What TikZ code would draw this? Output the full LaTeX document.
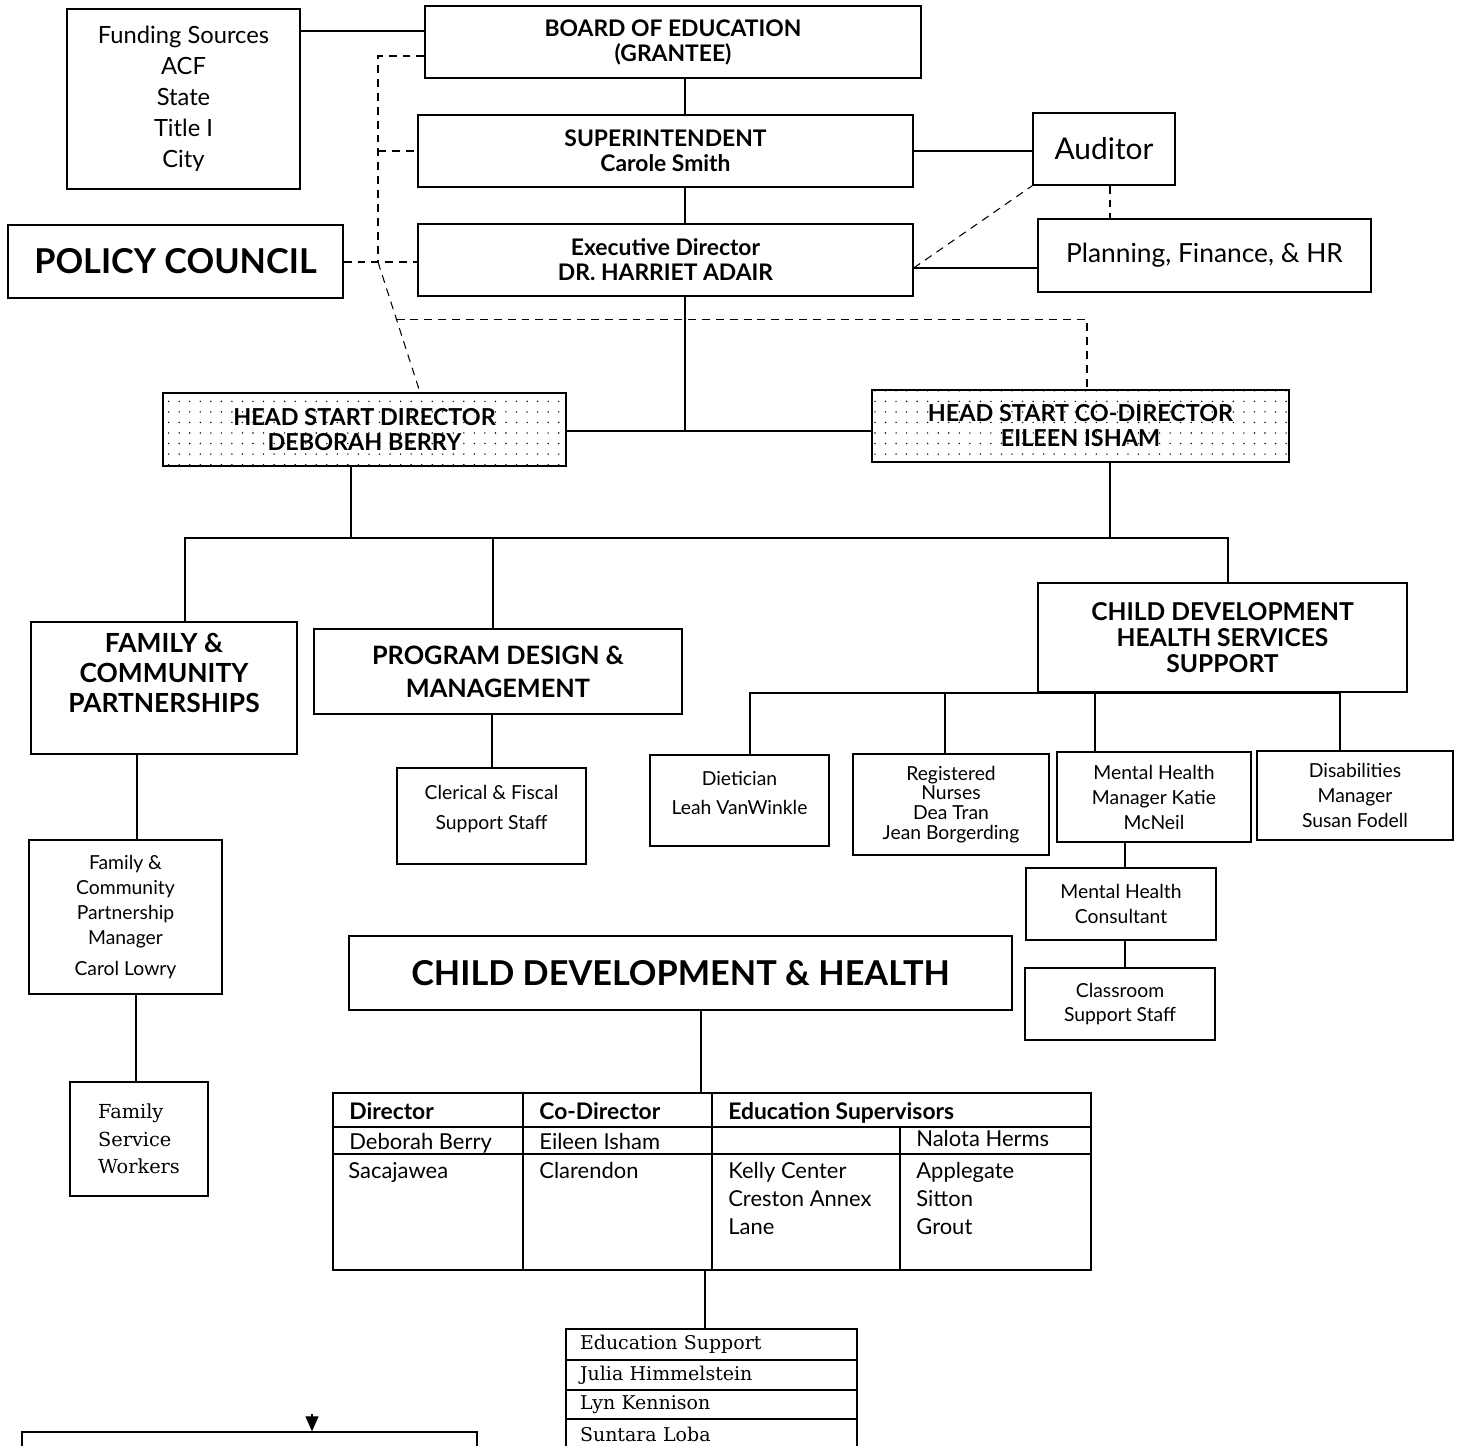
\documentclass[tikz,border=0pt]{standalone}
\usepackage{fontspec}
\setmainfont{Lato}
\newfontfamily\bookface{DejaVu Serif}
\usetikzlibrary{positioning, arrows.meta, calc, patterns.meta}

\begin{document}
\begin{tikzpicture}[x=0.02cm, y=-0.02cm,
      unit/.style={draw, line width=0.8pt, align=center, inner sep=0pt},
      hsbox/.style={unit, pattern={Dots[distance=6pt, radius=0.45pt]}},
      topfont/.style={font=\bfseries\fontsize{13}{14.2}\selectfont},
      small/.style={font=\fontsize{11}{14.2}\selectfont},
      link/.style={line width=0.6pt},
      adv/.style={line width=0.6pt, dash pattern=on 4.5pt off 3.4pt},
      cell/.style={anchor=base west, inner sep=0pt, font=\fontsize{12.5}{15}\selectfont},
      head/.style={cell, font=\bfseries\fontsize{13}{15}\selectfont},
      esrow/.style={draw, line width=0.8pt, align=left, text width=5.26cm, inner xsep=0.28cm, inner ysep=0pt, minimum height=0.6cm, font=\bookface\fontsize{10.8}{14}\selectfont}]
    \useasboundingbox (0,0) rectangle (1460,1445);
    \clip (0,0) rectangle (1460,1445);

    % top of the chart
    \node[unit, minimum width=4.66cm, minimum height=3.6cm, font=\fontsize{13.5}{17.6}\selectfont] (fund) at (183.5,99) {Funding Sources\\ACF\\State\\Title I\\City};
    \node[unit, topfont, minimum width=9.92cm, minimum height=1.44cm] (board) at (673,42) {BOARD OF EDUCATION\\(GRANTEE)};
    \node[unit, topfont, minimum width=9.9cm, minimum height=1.44cm] (supt) at (665.5,151) {SUPERINTENDENT\\Carole Smith};
    \node[unit, topfont, minimum width=9.9cm, minimum height=1.44cm] (exec) at (665.5,260) {Executive Director\\DR. HARRIET ADAIR};
    \node[unit, minimum width=6.7cm, minimum height=1.46cm, font=\bfseries\fontsize{19.5}{22}\selectfont] (policy) at (175.5,261.5) {POLICY COUNCIL};
    \node[unit, minimum width=2.84cm, minimum height=1.44cm, font=\fontsize{17}{20}\selectfont] (auditor) at (1104,149) {Auditor};
    \node[unit, minimum width=6.66cm, minimum height=1.46cm, font=\fontsize{15}{18}\selectfont] (plan) at (1204.5,255.5) {Planning, Finance, \& HR};

    % head start directors
    \node[hsbox, font=\bfseries\fontsize{13.3}{14.2}\selectfont, minimum width=8.06cm, minimum height=1.46cm] (hsdir) at (364.5,429.5) {HEAD START DIRECTOR\\DEBORAH BERRY};
    \node[hsbox, font=\bfseries\fontsize{13.3}{14.2}\selectfont, minimum width=8.34cm, minimum height=1.44cm] (hscodir) at (1080.5,426) {HEAD START CO-DIRECTOR\\EILEEN ISHAM};

    % service areas
    \node[unit, minimum width=5.32cm, minimum height=2.64cm, font=\bfseries\fontsize{15}{17.3}\selectfont] (fcp) at (164,688) {FAMILY \&\\COMMUNITY\\PARTNERSHIPS\\\mbox{}};
    \node[unit, minimum width=7.36cm, minimum height=1.7cm, font=\bfseries\fontsize{14.4}{18.7}\selectfont] (pdm) at (498,671.5) {PROGRAM DESIGN \&\\MANAGEMENT};
    \node[unit, minimum width=7.38cm, minimum height=2.18cm, font=\bfseries\fontsize{14}{14.7}\selectfont] (cdhs) at (1222.5,637.5) {CHILD DEVELOPMENT\\HEALTH SERVICES\\SUPPORT};

    \node[unit, minimum width=3.58cm, minimum height=1.82cm, font=\fontsize{11}{16.4}\selectfont] (diet) at (739.5,800.5) {Dietician\\Leah VanWinkle\\[-8pt]\mbox{}};
    \node[unit, minimum width=3.92cm, minimum height=2.02cm, font=\fontsize{11}{11.3}\selectfont] (nurse) at (951,804.5) {Registered\\Nurses\\Dea Tran\\Jean Borgerding};
    \node[unit, small, minimum width=3.88cm, minimum height=1.8cm] (mhm) at (1154,797) {Mental Health\\Manager Katie\\McNeil};
    \node[unit, small, minimum width=3.92cm, minimum height=1.78cm] (disab) at (1355,795.5) {Disabilities\\Manager\\Susan Fodell};
    \node[unit, small, minimum width=3.8cm, minimum height=1.44cm] (mhc) at (1121,904) {Mental Health\\Consultant};
    \node[unit, small, minimum width=3.8cm, minimum height=1.44cm] (class) at (1120,1004) {Classroom\\Support Staff};
    \node[unit, minimum width=3.78cm, minimum height=1.92cm, font=\fontsize{11}{17}\selectfont] (cler) at (491.5,816) {Clerical \& Fiscal\\Support Staff\\[-6.8pt]\mbox{}};
    \node[unit, small, minimum width=3.86cm, minimum height=3.08cm] (fcpm) at (125.5,917) {Family \&\\Community\\Partnership\\Manager\\[3pt]Carol Lowry};
    \node[draw, line width=0.8pt, align=left, inner sep=0pt, minimum width=2.76cm, minimum height=2.28cm, font=\bookface\fontsize{11}{15.6}\selectfont] (fsw) at (139,1139) {Family\\Service\\Workers\hspace{0.28cm}};

    % child development and health
    \node[unit, minimum width=13.26cm, minimum height=1.48cm, font=\bfseries\fontsize{19.5}{22}\selectfont] (cdh) at (680.5,973) {CHILD DEVELOPMENT \& HEALTH};
    \node[unit, minimum width=15.16cm, minimum height=3.54cm] (grid) at (712,1181.5) {};
    \draw[line width=0.8pt] (grid.west |- 0,1127) -- (grid.east |- 0,1127);
    \draw[line width=0.8pt] (grid.west |- 0,1154) -- (grid.east |- 0,1154);
    \draw[line width=0.8pt] (grid.north -| 523,0) -- (grid.south -| 523,0);
    \draw[line width=0.8pt] (grid.north -| 712,0) -- (grid.south -| 712,0);
    \draw[line width=0.8pt] (900,1127) -- (grid.south -| 900,0);
    \node[head] (hdir) at (349,1119) {Director};
    \node[head] (hcodir) at (539,1119) {Co-Director};
    \node[head] (hsup) at (728,1119) {Education Supervisors};
    \node[cell] (ndir) at (349,1149) {Deborah Berry};
    \node[cell] (ncodir) at (539,1149) {Eileen Isham};
    \node[cell] (nsup) at (916,1146) {Nalota Herms};
    \node[cell] (sdir) at (348,1178) {Sacajawea};
    \node[cell] (scodir) at (539,1178) {Clarendon};
    \node[cell] (sa1) at (728,1178) {Kelly Center};
    \node[cell] (sa2) at (728,1206) {Creston Annex};
    \node[cell] (sa3) at (728,1234) {Lane};
    \node[cell] (sb1) at (916,1178) {Applegate};
    \node[cell] (sb2) at (916,1206) {Sitton};
    \node[cell] (sb3) at (916,1234) {Grout};

    \node[esrow, minimum height=0.62cm] (es1) at (711.5,1344.5) {Education Support};
    \node[esrow] (es2) at (711.5,1375) {Julia Himmelstein};
    \node[esrow, minimum height=0.58cm] (es3) at (711.5,1404.5) {Lyn Kennison};
    \node[esrow] (es4) at (711.5,1434) {Suntara Loba};

    \node[draw, line width=0.8pt, minimum width=9.1cm, minimum height=1.52cm] (notes) at (249.5,1470) {};

    % solid links
    \coordinate (spine) at (685,431);
    \draw[link] (fund.east |- 0,31) -- (board.west |- 0,31);
    \draw[link] (board.south -| spine) -- (supt.north -| spine);
    \draw[link] (supt.south -| spine) -- (exec.north -| spine);
    \draw[link] (exec.south -| spine) -- (spine);
    \draw[link] (hsdir.east |- spine) -- (hscodir.west |- spine);
    \draw[link] (supt.east) -- (auditor.west |- supt.east);
    \draw[link] (exec.east |- 0,268) -- (plan.west |- 0,268);

    \coordinate (busL) at (185,538);
    \coordinate (busR) at (1228,538);
    \draw[link] (fcp.north -| busL) -- (busL) -- (busR) -- (cdhs.north -| busR);
    \draw[link] (hsdir.south -| 351,0) -- (busL -| 351,0);
    \draw[link] (hscodir.south -| 1110,0) -- (busL -| 1110,0);
    \draw[link] (pdm.north -| 493,0) -- (busL -| 493,0);
    \draw[link] (pdm.south -| 492,0) -- (cler.north -| 492,0);
    \draw[link] (fcp.south -| 137,0) -- (fcpm.north -| 137,0);
    \draw[link] (fcpm.south -| 136,0) -- (fsw.north -| 136,0);

    \coordinate (subL) at (750,693);
    \coordinate (subR) at (1340,693);
    \draw[link] (diet.north -| subL) -- (subL) -- (subR) -- (disab.north -| subR);
    \draw[link] (subL -| 945,0) -- (nurse.north -| 945,0);
    \draw[link] (cdhs.south -| 1095,0) -- (mhm.north -| 1095,0);
    \draw[link] (mhm.south -| 1125,0) -- (mhc.north -| 1125,0);
    \draw[link] (mhc.south -| 1125,0) -- (class.north -| 1125,0);
    \draw[link] (cdh.south -| 701,0) -- (grid.north -| 701,0);
    \draw[link] (grid.south -| 705,0) -- (es1.north -| 705,0);
    \coordinate (tipsrc) at (312,1414);
    \draw[link, -{Triangle[length=0.3cm, width=0.26cm]}] (tipsrc) -- (notes.north -| tipsrc);

    % advisory (dashed) links
    \coordinate (dv) at (378,56);
    \coordinate (pj) at (378,262);
    \coordinate (hdtop) at (hsdir.north -| 420,0);
    \coordinate (dj) at ($(pj)!0.443!(hdtop)$);
    \draw[adv] (board.west |- dv) -- (dv) -- (pj);
    \draw[adv] (dv |- supt.west) -- (supt.west);
    \draw[adv] (policy.east |- pj) -- (exec.west |- pj);
    \draw[adv] (pj) -- (hdtop);
    \draw[adv] (dj) -- (dj -| 1087,0) -- (hscodir.north -| 1087,0);
    \draw[adv] (exec.east |- 0,268) -- (auditor.south west);
    \draw[adv] (auditor.south -| 1110,0) -- (plan.north -| 1110,0);
  \end{tikzpicture}
\end{document}
